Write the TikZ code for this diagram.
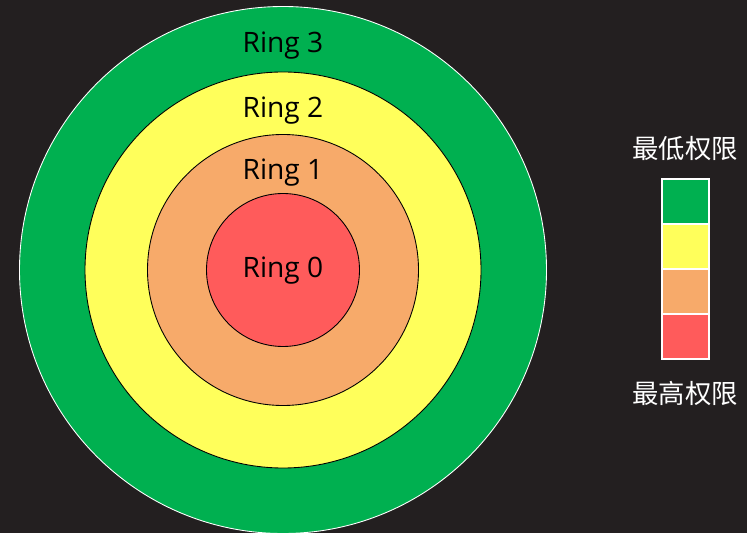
\documentclass[tikz,border=0pt]{standalone}
\usepackage{fontspec}
\setmainfont{Open Sans}
\newfontfamily\cjk{Noto Sans CJK SC}
\usetikzlibrary{positioning}
\definecolor{bgDark}{HTML}{231F20}
\definecolor{ringThree}{HTML}{00B050}
\definecolor{ringTwo}{HTML}{FFFF5B}
\definecolor{ringOne}{HTML}{F7AA6A}
\definecolor{ringZero}{HTML}{FF5B5B}

\begin{document}
\begin{tikzpicture}[x=0.02cm, y=-0.02cm, font=\fontsize{16}{19}\selectfont,
    ring/.style={circle, draw=black, line width=0.5pt, inner sep=0pt},
    legendbox/.style={draw=white, line width=0.6pt, minimum width=47*0.02cm, minimum height=45*0.02cm, inner sep=0pt, outer sep=0pt},
    legendtext/.style={text=white, font=\cjk\fontsize{15}{18}\selectfont}]
  \fill[bgDark] (0,0) rectangle (747,533);
  \useasboundingbox (0,0) rectangle (747,533);
  % rings
  \coordinate (c) at (283,270);
  \node[ring, draw=white, fill=ringThree, minimum size=527*0.02cm] (r3) at (c) {};
  \node[ring, fill=ringTwo, minimum size=396*0.02cm] (r2) at (c) {};
  \node[ring, fill=ringOne, minimum size=271*0.02cm] (r1) at (c) {};
  \node[ring, fill=ringZero, minimum size=153*0.02cm] (r0) at (c) {};
  \node (l3) at (283,46) {Ring 3};
  \node (l2) at (283,111) {Ring 2};
  \node (l1) at (283,173) {Ring 1};
  \node (l0) at (283,271) {Ring 0};
  % legend
  \node[legendbox, fill=ringThree] (b3) at (685.5,201.5) {};
  \node[legendbox, fill=ringTwo, below=0pt of b3] (b2) {};
  \node[legendbox, fill=ringOne, below=0pt of b2] (b1) {};
  \node[legendbox, fill=ringZero, below=0pt of b1] (b0) {};
  \node[legendtext] (low) at (685,149) {最低权限};
  \node[legendtext] (high) at (685,394) {最高权限};
\end{tikzpicture}
\end{document}
